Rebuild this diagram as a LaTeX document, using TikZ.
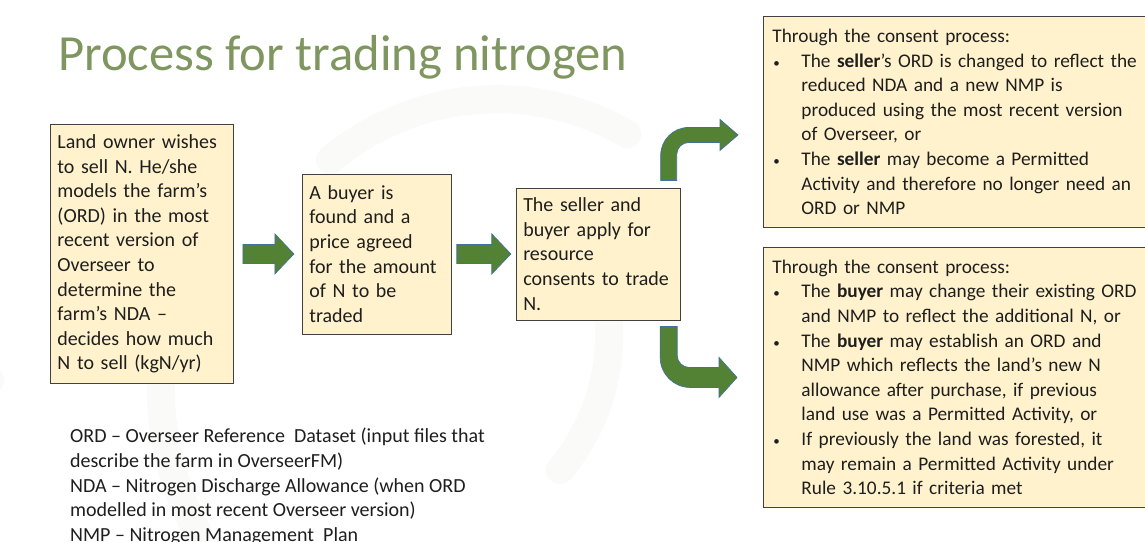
\documentclass[tikz,border=0pt]{standalone}
\usepackage{fontspec}
\setmainfont{Carlito}
\usetikzlibrary{calc,positioning}

\definecolor{boxfill}{RGB}{255,242,204}
\definecolor{boxedge}{RGB}{64,64,64}
\definecolor{arrowgreen}{RGB}{84,130,53}
\definecolor{arrowedge}{RGB}{65,113,156}
\definecolor{titlegreen}{RGB}{127,150,96}
\definecolor{bodytext}{RGB}{30,30,30}
\definecolor{faintmark}{RGB}{250,250,249}

\newcommand\boxtext{\fontsize{20}{24.6}\selectfont}
\newcommand\listtext{\fontsize{19.3}{24.6}\selectfont}
\newcommand\bul{\makebox[29pt][l]{\hspace{1pt}{\fontsize{13}{13}\selectfont\textbullet}}}
\newcommand\cont{\hspace*{29pt}}

% straight block arrow: start point, tip point
\newcommand\flowarrow[2]{%
  \path[blockarrow] let \p1=(#1), \p2=(#2) in
    (\x1,\y1+9.5pt) -- (\x2-19pt,\y1+9.5pt) -- (\x2-19pt,\y1+20pt) -- (\x2,\y1)
    -- (\x2-19pt,\y1-20pt) -- (\x2-19pt,\y1-9.5pt) -- (\x1,\y1-9.5pt) -- cycle;}

\tikzset{
  stepbox/.style={draw=boxedge, fill=boxfill, line width=0.9pt, align=left,
    inner xsep=7pt, inner ysep=4pt, font=\boxtext, text=bodytext},
  blockarrow/.style={fill=arrowgreen, draw=arrowedge, line width=0.7pt},
  watermark/.style={draw=faintmark, line width=28pt, line cap=round}
}

\begin{document}
\begin{tikzpicture}[x=1pt,y=-1pt]
  \useasboundingbox (0,0) rectangle (1145,541);
  \fill[white] (0,0) rectangle (1145,541);

  % faint logo behind everything
  \draw[watermark] (215,560) arc[start angle=215, end angle=150, radius=300pt];
  \draw[watermark] (330,160) arc[start angle=130, end angle=60, radius=260pt];
  \draw[watermark] (560,470) arc[start angle=-40, end angle=30, radius=210pt];
  \draw[watermark] (-10,380) arc[start angle=250, end angle=200, radius=140pt];

  \node[anchor=base west, inner sep=0, text=titlegreen,
    font=\fontsize{50.6}{60}\selectfont] (title) at (58,70) {Process for trading nitrogen};

  % the three steps
  \node[stepbox, anchor=north west, text width=169pt, minimum height=259pt] (land) at (50,124)
    {Land owner wishes\\ to sell N. He/she\\ models the farm's\\ (ORD) in the most\\
     recent version of\\ Overseer to\\ determine the\\ farm's NDA --\\ decides how much\\
     N to sell (kgN/yr)};
  \node[stepbox, right=68pt of land, text width=135pt, minimum height=160pt] (buyer)
    {A buyer is\\ found and a\\ price agreed\\ for the amount\\ of N to be\\ traded};
  \node[stepbox, right=64pt of buyer, text width=150pt, minimum height=132pt] (consent)
    {The seller and\\ buyer apply for\\ resource\\ consents to trade\\ N.};

  % outcomes for each party
  \node[stepbox, anchor=north west, inner xsep=9pt, text width=382pt, minimum height=211pt,
    font=\listtext] (seller) at (763,16)
    {Through the consent process:\\
     \bul The \textbf{seller}'s ORD is changed to reflect the\\
     \cont reduced NDA and a new NMP is\\
     \cont produced using the most recent version\\
     \cont of Overseer, or\\
     \bul The \textbf{seller} may become a Permitted\\
     \cont Activity and therefore no longer need an\\
     \cont ORD or NMP};
  \node[stepbox, anchor=north west, inner xsep=9pt, text width=382pt, minimum height=260pt,
    font=\listtext] (buyerout) at (763,247)
    {Through the consent process:\\
     \bul The \textbf{buyer} may change their existing ORD\\
     \cont and NMP to reflect the additional N, or\\
     \bul The \textbf{buyer} may establish an ORD and\\
     \cont NMP which reflects the land's new N\\
     \cont allowance after purchase, if previous\\
     \cont land use was a Permitted Activity, or\\
     \bul If previously the land was forested, it\\
     \cont may remain a Permitted Activity under\\
     \cont Rule 3.10.5.1 if criteria met};

  \node[anchor=north west, inner sep=0, align=left, font=\boxtext, text=bodytext] (legend)
    at (70,428)
    {ORD -- Overseer Reference \ Dataset (input files that\\
     describe the farm in OverseerFM)\\
     NDA -- Nitrogen Discharge Allowance (when ORD\\
     modelled in most recent Overseer version)\\
     NMP -- Nitrogen Management \ Plan};

  % arrows
  \flowarrow{$(land.east)+(9,0)$}{$(buyer.west)+(-8,0)$}
  \flowarrow{$(buyer.east)+(5,0)$}{$(consent.west)+(-5,0)$}

  \coordinate (upstart) at ($(consent.north east)+(-12,-7)$);
  \coordinate (uptip) at ($(seller.west)+(-25,13)$);
  \coordinate (downstart) at ($(consent.south east)+(-12,6)$);
  \coordinate (downtip) at ($(buyerout.west)+(-26,0)$);

  \path[blockarrow] let \p1=(upstart), \p2=(uptip) in
    (\x1-8pt,\y1) -- (\x1-8pt,\y2+7.5pt-28pt) arc[start angle=180, end angle=90, radius=28pt]
    -- (\x2-18pt,\y2+7.5pt) -- (\x2-18pt,\y2+15.5pt) -- (\x2,\y2)
    -- (\x2-18pt,\y2-15.5pt) -- (\x2-18pt,\y2-7.5pt)
    -- (\x1+20pt,\y2-7.5pt) arc[start angle=90, end angle=180, radius=12pt]
    -- (\x1+8pt,\y1) -- cycle;
  \path[blockarrow] let \p1=(downstart), \p2=(downtip) in
    (\x1-8.5pt,\y1) -- (\x1-8.5pt,\y2-10pt+30pt) arc[start angle=180, end angle=270, radius=30pt]
    -- (\x2-18pt,\y2-10pt) -- (\x2-18pt,\y2-20pt) -- (\x2,\y2)
    -- (\x2-18pt,\y2+20pt) -- (\x2-18pt,\y2+10pt)
    -- (\x1+20.5pt,\y2+10pt) arc[start angle=270, end angle=180, radius=12pt]
    -- (\x1+8.5pt,\y1) -- cycle;
\end{tikzpicture}
\end{document}
